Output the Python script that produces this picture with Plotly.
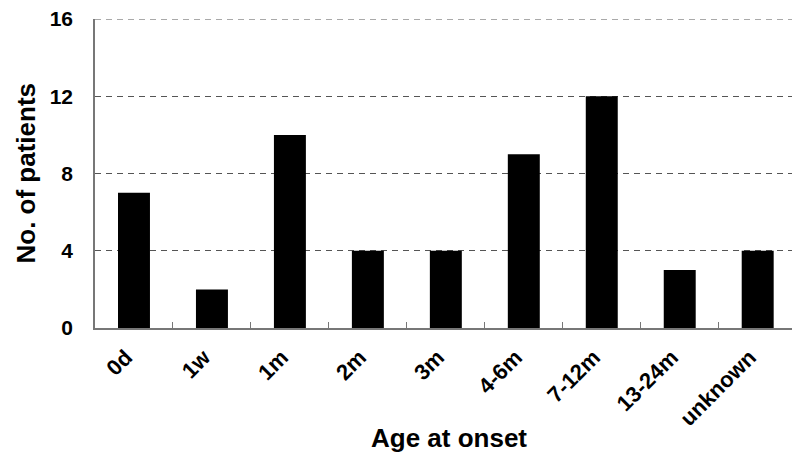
import plotly.graph_objects as go

categories = ["0d", "1w", "1m", "2m", "3m", "4-6m", "7-12m", "13-24m", "unknown"]
patients = [7, 2, 10, 4, 4, 9, 12, 3, 4]
y_ticks = [0, 4, 8, 12, 16]
x_title = "Age at onset"
y_title = "No. of patients"

font_family = "Arial, Liberation Sans, sans-serif"
grid_color = "#555"
grid_dash = "6px,5px"

fig = go.Figure(go.Bar(
    x=categories, y=patients,
    marker=dict(color="black", line=dict(color="black", width=0)),
    width=0.41,
))

fig.update_layout(
    width=792, height=453,
    margin=dict(l=95, r=0, t=19, b=125),
    plot_bgcolor="white", paper_bgcolor="white",
    showlegend=False,
    font=dict(family=font_family, color="black"),
    xaxis=dict(
        range=[-0.5, 8.44],
        tickangle=-45,
        tickfont=dict(size=22, weight="bold", family=font_family),
        ticks="inside", ticklen=6, tickcolor="#777", tickson="boundaries",
        ticklabelstandoff=6, ticklabelshift=-8,
        showline=True, linecolor="#777", linewidth=1.5,
        showgrid=False, automargin=False,
    ),
    yaxis=dict(
        range=[0, 16],
        tickvals=y_ticks,
        tickfont=dict(size=21, weight="bold", family=font_family),
        showline=True, linecolor="#777", linewidth=1.5,
        showgrid=True, gridcolor=grid_color, griddash=grid_dash, gridwidth=1,
        zeroline=False, automargin=False,
        ticks="", ticklabelstandoff=16,
    ),
    annotations=[
        dict(text=x_title, xref="paper", yref="paper", x=0.508, y=0,
             yshift=-110, xanchor="center", yanchor="middle", showarrow=False,
             font=dict(size=26, weight="bold", family=font_family)),
        dict(text=y_title, xref="paper", yref="paper", x=0, y=0.5,
             xshift=-70, textangle=-90, xanchor="center", yanchor="middle",
             showarrow=False,
             font=dict(size=26, weight="bold", family=font_family)),
    ],
)

fig.add_hline(y=y_ticks[-1], line=dict(color=grid_color, width=1, dash=grid_dash), layer="below")

fig.write_html("out.html", config={"displayModeBar": False},
               post_script="document.body.style.margin='0';")
